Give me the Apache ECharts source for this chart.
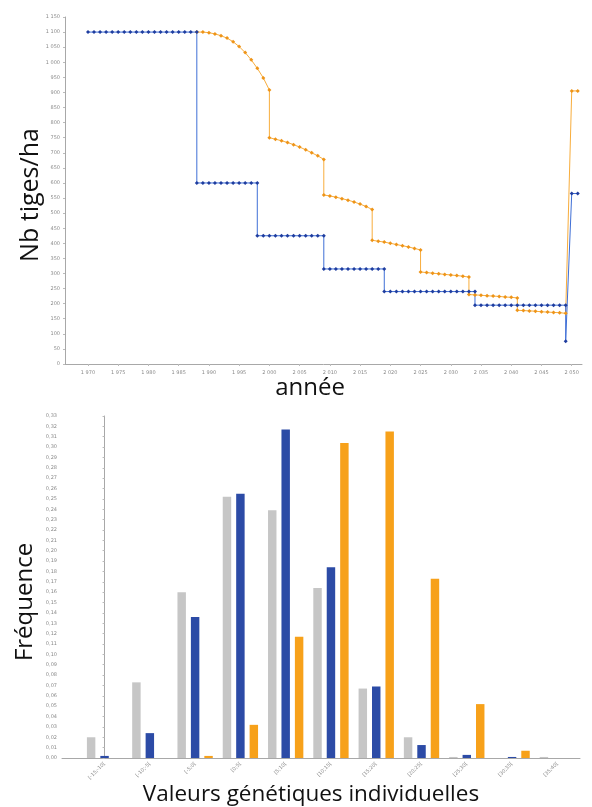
<!DOCTYPE html>
<html>
<head>
<meta charset="utf-8">
<script src="https://cdn.jsdelivr.net/npm/echarts@6/dist/echarts.min.js"></script>
<style>
html,body{margin:0;padding:0;background:#fff;}
#c{width:592px;height:807px;}
</style>
</head>
<body>
<div id="c"></div>
<script>
// ---- Top chart: Nb tiges/ha per year ----
const yearTicks = [1970,1975,1980,1985,1990,1995,2000,2005,2010,2015,2020,2025,2030,2035,2040,2045,2050];
const blueStems = [
 [1970,1100],[1971,1100],[1972,1100],[1973,1100],[1974,1100],[1975,1100],[1976,1100],[1977,1100],[1978,1100],[1979,1100],
 [1980,1100],[1981,1100],[1982,1100],[1983,1100],[1984,1100],[1985,1100],[1986,1100],[1987,1100],[1988,1100],
 [1988,600],[1989,600],[1990,600],[1991,600],[1992,600],[1993,600],[1994,600],[1995,600],[1996,600],[1997,600],[1998,600],
 [1998,425],[1999,425],[2000,425],[2001,425],[2002,425],[2003,425],[2004,425],[2005,425],[2006,425],[2007,425],[2008,425],[2009,425],
 [2009,315],[2010,315],[2011,315],[2012,315],[2013,315],[2014,315],[2015,315],[2016,315],[2017,315],[2018,315],[2019,315],
 [2019,240],[2020,240],[2021,240],[2022,240],[2023,240],[2024,240],[2025,240],[2026,240],[2027,240],[2028,240],[2029,240],
 [2030,240],[2031,240],[2032,240],[2033,240],[2034,240],
 [2034,195],[2035,195],[2036,195],[2037,195],[2038,195],[2039,195],[2040,195],[2041,195],[2042,195],[2043,195],[2044,195],
 [2045,195],[2046,195],[2047,195],[2048,195],[2049,195],
 [2049,75],[2050,565],[2051,565]
];
const orangeStems = [
 [1988,1100],[1989,1100],[1990,1098],[1991,1094],[1992,1088],[1993,1080],[1994,1068],[1995,1052],[1996,1032],[1997,1008],[1998,980],[1999,948],[2000,908],
 [2000,750],[2001,745],[2002,740],[2003,734],[2004,727],[2005,719],[2006,710],[2007,700],[2008,690],[2009,678],
 [2009,560],[2010,557],[2011,553],[2012,548],[2013,543],[2014,537],[2015,530],[2016,522],[2017,512],
 [2017,410],[2018,407],[2019,404],[2020,400],[2021,396],[2022,392],[2023,388],[2024,383],[2025,378],
 [2025,305],[2026,303],[2027,301],[2028,299],[2029,297],[2030,295],[2031,293],[2032,291],[2033,288],
 [2033,230],[2034,229],[2035,228],[2036,226],[2037,225],[2038,224],[2039,222],[2040,221],[2041,219],
 [2041,178],[2042,177],[2043,176],[2044,175],[2045,173],[2046,172],[2047,171],[2048,170],[2049,168],
 [2050,905],[2051,905]
];

// ---- Bottom chart: frequency of individual genetic values ----
const classes = ['[-15;-10[','[-10;-5[','[-5;0[','[0;5[','[5;10[','[10;15[','[15;20[','[20;25[','[25;30[','[30;35[','[35;40['];
const freqGray   = [0.020,0.073,0.160,0.252,0.239,0.164,0.067,0.020,0.001,0.000,0.001];
const freqBlue   = [0.002,0.024,0.136,0.255,0.317,0.184,0.069,0.0125,0.003,0.001,0.000];
const freqOrange = [0.000,0.000,0.002,0.032,0.117,0.304,0.315,0.173,0.052,0.007,0.000];

function fmtThousands(v){
  v = Math.round(v);
  if (v >= 1000) return Math.floor(v/1000) + ' ' + String(v % 1000).padStart(3,'0');
  return String(v);
}
const small = {fontSize:5, color:'#8a8a8a', fontFamily:'DejaVu Sans'};
const axisLineGray = {lineStyle:{color:'#a8a8a8', width:1}};
const idx = classes.map((c,i)=>i);

const chart = echarts.init(document.getElementById('c'), null, {renderer:'canvas'});
chart.setOption({
  animation:false,
  backgroundColor:'#ffffff',
  grid:[
    {left:65, top:17, width:517, height:347},
    {left:62, top:416, width:518, height:342}
  ],
  xAxis:[
    {type:'value', gridIndex:0, min:1966.2, max:2051.7,
     axisLine:{show:true, ...axisLineGray}, splitLine:{show:false},
     axisTick:{show:true, length:2, customValues:yearTicks, lineStyle:{color:'#bbb'}},
     axisLabel:{...small, margin:6, customValues:yearTicks, formatter:fmtThousands}},
    {type:'value', gridIndex:1, min:-0.94, max:10.5,
     axisLine:{show:true, ...axisLineGray}, splitLine:{show:false},
     axisTick:{show:false},
     axisLabel:{...small, rotate:45, margin:5, customValues:idx, formatter:v=>classes[Math.round(v)]}}
  ],
  yAxis:[
    {type:'value', gridIndex:0, min:0, max:1150, interval:50,
     axisLine:{show:true, ...axisLineGray}, splitLine:{show:false},
     axisTick:{show:true, length:2, lineStyle:{color:'#bbb'}},
     axisLabel:{...small, margin:5, formatter:fmtThousands}},
    {type:'value', gridIndex:1, min:0, max:0.33, interval:0.01,
     axisLine:{show:true, ...axisLineGray}, splitLine:{show:false},
     axisTick:{show:true, length:2, lineStyle:{color:'#bbb'}},
     axisLabel:{...small, margin:5, formatter:v=>v.toFixed(2).replace('.',',')}}
  ],
  series:[
    {type:'line', xAxisIndex:0, yAxisIndex:0, data:orangeStems,
     symbol:'diamond', symbolSize:4,
     lineStyle:{color:'#f8ad3c', width:1},
     itemStyle:{color:'#ee9418'}},
    {type:'line', xAxisIndex:0, yAxisIndex:0, data:blueStems,
     symbol:'diamond', symbolSize:4,
     lineStyle:{color:'#3f6fd6', width:1},
     itemStyle:{color:'#1f3d9f'}},
    {type:'bar', xAxisIndex:1, yAxisIndex:1, data:idx.map(i=>[i,freqGray[i]]),
     barCategoryGap:'22%', barGap:'59%', itemStyle:{color:'#c6c6c6'}},
    {type:'bar', xAxisIndex:1, yAxisIndex:1, data:idx.map(i=>[i,freqBlue[i]]),
     barCategoryGap:'22%', barGap:'59%', itemStyle:{color:'#2c4ba6'}},
    {type:'bar', xAxisIndex:1, yAxisIndex:1, data:idx.map(i=>[i,freqOrange[i]]),
     barCategoryGap:'22%', barGap:'59%', itemStyle:{color:'#f7a11a'}}
  ],
  graphic:[
    {type:'text', x:31, y:195, rotation:Math.PI/2,
     style:{text:'Nb tiges/ha', fontSize:25, fontFamily:'Open Sans', fill:'#111', align:'center', verticalAlign:'middle'}},
    {type:'text', x:310, y:388,
     style:{text:'année', fontSize:24, fontFamily:'Open Sans', fill:'#111', align:'center', verticalAlign:'middle'}},
    {type:'text', x:25, y:602, rotation:Math.PI/2,
     style:{text:'Fréquence', fontSize:24, fontFamily:'Open Sans', fill:'#111', align:'center', verticalAlign:'middle'}},
    {type:'text', x:311, y:795,
     style:{text:'Valeurs génétiques individuelles', fontSize:22.5, fontFamily:'Open Sans', fill:'#111', align:'center', verticalAlign:'middle'}}
  ]
});
</script>
</body>
</html>
